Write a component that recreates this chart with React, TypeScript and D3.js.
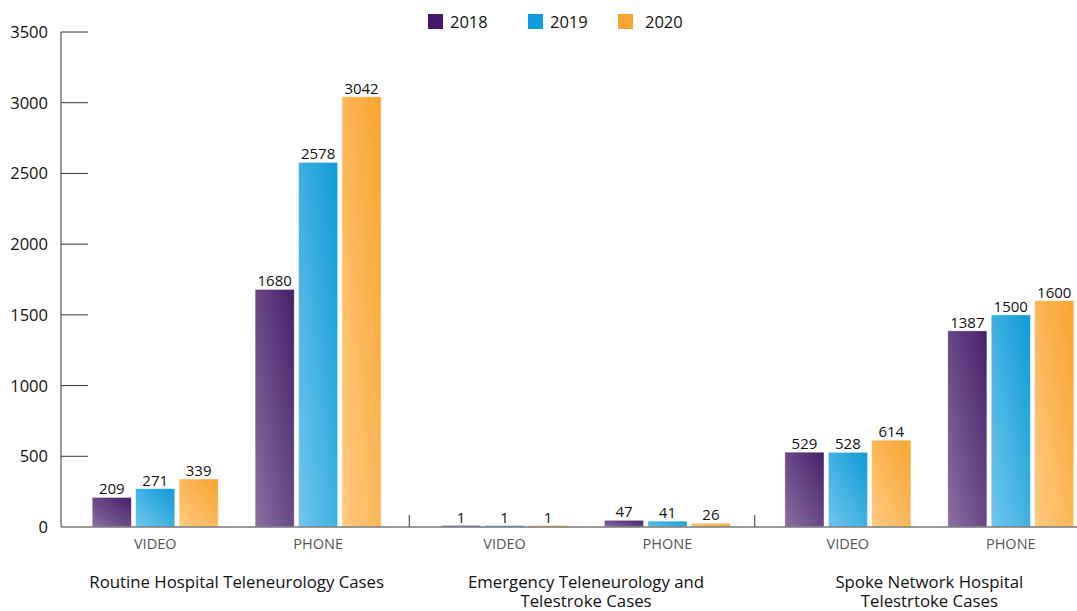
import React from "react";
import * as d3 from "d3";

const groups = [
  ["Routine Hospital Teleneurology Cases"],
  ["Emergency Teleneurology and", "Telestroke Cases"],
  ["Spoke Network Hospital", "Telestrtoke Cases"],
];
const subCategories = ["VIDEO", "PHONE"];
const years = ["2018", "2019", "2020"];
const values2018 = [209, 1680, 1, 47, 529, 1387];
const values2019 = [271, 2578, 1, 41, 528, 1500];
const values2020 = [339, 3042, 1, 26, 614, 1600];
const yTicks = [0, 500, 1000, 1500, 2000, 2500, 3000, 3500];

const seriesValues = [values2018, values2019, values2020];
const legendColors = ["#47186b", "#0d9ddb", "#f9a533"];
const gradTop = ["#45206a", "#0f9ad7", "#f9a430"];
const gradBottom = ["#8c6ea2", "#70c7ec", "#fecb80"];

const W = 1077;
const H = 611;
const FONT = "'Open Sans', 'Noto Sans', sans-serif";
const LEGEND_SQ_X = [428, 528, 618];
const LEGEND_TXT_X = [450, 550, 645];

export default function App() {
  const y = d3.scaleLinear().domain([0, 3500]).range([527, 32]);
  const x0 = d3.scaleBand<number>().domain([0, 1, 2]).range([64, 1100]).padding(0);
  const x1 = d3
    .scalePoint<string>()
    .domain(subCategories)
    .range([0, x0.bandwidth()])
    .padding(0.56);
  const x2 = d3.scaleBand<string>().domain(years).range([-63, 63]).paddingInner(0.1);
  const groupShift = [0, 4, 2];

  const baseY = y(0);

  return (
    <svg
      width={W}
      height={H}
      style={{ display: "block", position: "fixed", left: 0, top: 0, fontFamily: FONT }}
    >
      <defs>
        {years.map((yr, i) => (
          <linearGradient key={yr} id={`g${yr}`} x1="1" y1="0" x2="0" y2="1">
            <stop offset="0" stopColor={gradTop[i]} />
            <stop offset="1" stopColor={gradBottom[i]} />
          </linearGradient>
        ))}
      </defs>
      <rect width={W} height={H} fill="#fff" />

      {/* Y axis */}
      <line x1={61} x2={61} y1={y(3500)} y2={baseY} stroke="#777" strokeWidth={1.5} />
      {yTicks.map((t) => (
        <g key={t}>
          {t > 0 && <line x1={61} x2={88} y1={y(t)} y2={y(t)} stroke="#333" strokeWidth={1} />}
          <text x={48} y={y(t)} dy="0.36em" textAnchor="end" fontSize={16.5} fill="#111">
            {t}
          </text>
        </g>
      ))}

      {/* Bars */}
      {groups.map((g, gi) =>
        subCategories.map((sc, si) => {
          const idx = gi * 2 + si;
          const cx = (x0(gi) as number) + (x1(sc) as number) + groupShift[gi];
          return (
            <g key={`${gi}-${si}`}>
              {years.map((yr, yi) => {
                const v = seriesValues[yi][idx];
                const bx = cx + (x2(yr) as number);
                const top = y(v);
                const h = Math.max(baseY - top, 1.5);
                return (
                  <g key={yr}>
                    <rect
                      x={bx}
                      y={baseY - h}
                      width={x2.bandwidth()}
                      height={h}
                      fill={`url(#g${yr})`}
                      stroke="rgba(255,255,255,0.5)"
                      strokeWidth={0.8}
                    />
                    <text
                      x={bx + x2.bandwidth() / 2}
                      y={baseY - h - 3}
                      textAnchor="middle"
                      fontSize={15}
                      fill="#111"
                    >
                      {v}
                    </text>
                  </g>
                );
              })}
              <text x={cx} y={549} textAnchor="middle" fontSize={14.5} fill="#555">
                {sc}
              </text>
            </g>
          );
        })
      )}

      {/* baseline */}
      <line x1={61} x2={W} y1={baseY} y2={baseY} stroke="#777" strokeWidth={1.5} />
      {[1, 2].map((gi) => (
        <line
          key={gi}
          x1={x0(gi) as number}
          x2={x0(gi) as number}
          y1={baseY - 12}
          y2={baseY}
          stroke="#555"
          strokeWidth={1.2}
        />
      ))}

      {/* Group labels */}
      {groups.map((lines, gi) => {
        const cx = (x0(gi) as number) + x0.bandwidth() / 2 + groupShift[gi];
        return (
          <text key={gi} x={cx} y={587.5} textAnchor="middle" fontSize={16.8} fill="#111">
            {lines.map((l, li) => (
              <tspan key={li} x={cx} dy={li === 0 ? 0 : 19}>
                {l}
              </tspan>
            ))}
          </text>
        );
      })}

      {/* Legend */}
      {years.map((yr, i) => (
        <g key={yr}>
          <rect x={LEGEND_SQ_X[i]} y={14} width={15} height={15} fill={legendColors[i]} />
          <text x={LEGEND_TXT_X[i]} y={28} fontSize={16.5} fill="#111">
            {yr}
          </text>
        </g>
      ))}
    </svg>
  );
}
